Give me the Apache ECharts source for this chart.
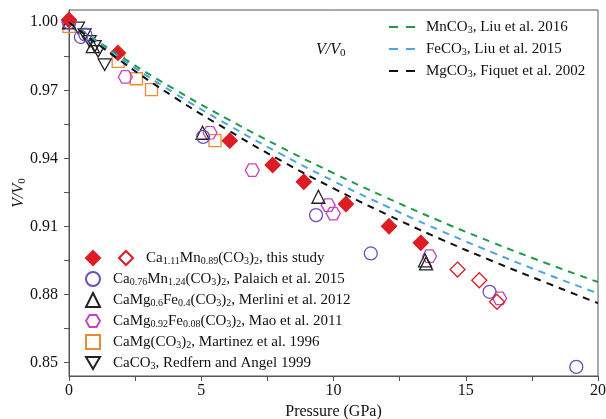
<!DOCTYPE html>
<html>
<head>
<meta charset="utf-8">
<script src="https://cdn.jsdelivr.net/npm/echarts@6/dist/echarts.min.js"></script>
<style>
html,body{margin:0;padding:0;background:#fff}
#chart{width:606px;height:419px}
</style>
</head>
<body>
<div id="chart"></div>
<script>
// EOS curves, V/V0
var pressureGrid = [0, 2, 4, 6, 8, 10, 12, 14, 16, 18, 20];
var mnco3 = [1.0, 0.9846, 0.9704, 0.9573, 0.9450, 0.9335, 0.9227, 0.9125, 0.9030, 0.8940, 0.8855];
var feco3 = [1.0, 0.9837, 0.9687, 0.9549, 0.9420, 0.9300, 0.9189, 0.9084, 0.8986, 0.8893, 0.8805];
var mgco3 = [1.0, 0.9826, 0.9668, 0.9525, 0.9391, 0.9268, 0.9154, 0.9047, 0.8948, 0.8854, 0.8762];

// [P (GPa), V/V0]
var thisStudy = [[0, 1.001], [1.85, 0.9865], [6.08, 0.9478], [7.70, 0.9371], [8.88, 0.9297], [10.47, 0.9199], [12.10, 0.9101], [13.30, 0.9028]];
var thisStudyOpen = [[14.69, 0.8910], [15.51, 0.8863], [16.18, 0.8768]];
var palaich = [[0, 1.0], [0.45, 0.9935], [0.62, 0.9945], [5.07, 0.9495], [9.34, 0.9150], [11.41, 0.8981], [15.90, 0.8812], [19.18, 0.8481]];
var merlini = [[0, 1.0], [0.9, 0.9895], [5.05, 0.9513], [9.43, 0.9231], [13.46, 0.8951], [13.50, 0.8937]];
var mao = [[0, 1.0], [2.13, 0.9759], [5.33, 0.9513], [6.93, 0.9348], [9.80, 0.9194], [9.99, 0.9157], [13.63, 0.8969], [16.28, 0.8783]];
var martinez = [[0, 0.9982], [1.86, 0.9828], [2.55, 0.9751], [3.12, 0.9703], [5.52, 0.9478]];
var redfern = [[0.34, 0.9975], [0.59, 0.9945], [0.78, 0.9916], [0.97, 0.9894], [1.10, 0.9872], [1.35, 0.9813]];

var xTicks = [0, 2.5, 5, 7.5, 10, 12.5, 15, 17.5, 20];
var xLabels = [0, 5, 10, 15, 20];
var yTicks = [0.85, 0.865, 0.88, 0.895, 0.91, 0.925, 0.94, 0.955, 0.97, 0.985, 1.0];
var yLabels = [0.85, 0.88, 0.91, 0.94, 0.97, 1.0];

var serif = 'Liberation Serif';
var nMn = 'MnCO_{3}, Liu et al. 2016';
var nFe = 'FeCO_{3}, Liu et al. 2015';
var nMg = 'MgCO_{3}, Fiquet et al. 2002';
var nStudy = 'Ca_{1.11}Mn_{0.89}(CO_{3})_{2}, this study';
var nPal = 'Ca_{0.76}Mn_{1.24}(CO_{3})_{2}, Palaich et al. 2015';
var nMer = 'CaMg_{0.6}Fe_{0.4}(CO_{3})_{2}, Merlini et al. 2012';
var nMao = 'CaMg_{0.92}Fe_{0.08}(CO_{3})_{2}, Mao et al. 2011';
var nMar = 'CaMg(CO_{3})_{2}, Martinez et al. 1996';
var nRed = 'CaCO_{3}, Redfern and Angel 1999';

var colMn = '#1f9a4a', colFe = '#4aa6e0', colMg = '#111111';

function chem(s) {
    return s.replace(/_\{([^}]*)\}/g, '{b|$1}');
}
var rich = {
    b: {fontFamily: serif, fontSize: 10, lineHeight: 8, verticalAlign: 'bottom', color: '#111'},
    gap: {width: 33}
};
var hexagon = 'path://M0,8.66 L5,0 L15,0 L20,8.66 L15,17.32 L5,17.32 Z';
var downTriangle = 'path://M0,0 L10,0 L5,8.66 Z';
var dashIcon = 'path://M0,0 H9 V2 H0 Z M17,0 H26 V2 H17 Z';

function line(name, vals, color) {
    return {
        type: 'line', name: name, smooth: true, symbol: 'none',
        data: pressureGrid.map(function(p, i) { return [p, vals[i]]; }),
        lineStyle: {color: color, width: 2, type: [7, 6]},
        itemStyle: {color: color}
    };
}
// empty series, only used for the dashed legend keys
function key(name, color) {
    return {type: 'scatter', name: name, data: [], symbol: dashIcon, itemStyle: {color: color, opacity: 1}};
}
function pts(name, data, symbol, size, color, filled) {
    return {
        type: 'scatter', name: name, data: data, symbol: symbol, symbolSize: size,
        itemStyle: {color: filled ? color : 'rgba(255,255,255,0)', borderColor: color, borderWidth: 1.3, opacity: 1}
    };
}

var myChart = echarts.init(document.getElementById('chart'));
var option = {
    animation: false,
    textStyle: {fontFamily: serif},
    title: {
        text: '{i|V/V}{s|0}', left: 316, top: 41, padding: 0,
        textStyle: {
            fontWeight: 'normal',
            rich: {
                i: {fontFamily: serif, fontStyle: 'italic', fontSize: 16, lineHeight: 18, color: '#111'},
                s: {fontFamily: serif, fontSize: 11, lineHeight: 8, verticalAlign: 'bottom', color: '#111'}
            }
        }
    },
    legend: [{
        orient: 'vertical', left: 389, top: 19, padding: 0, itemWidth: 26, itemHeight: 14, itemGap: 6,
        data: [nMn, nFe, nMg],
        formatter: chem,
        textStyle: {fontFamily: serif, fontSize: 15, lineHeight: 16, color: '#111', padding: [0, 0, 0, 6], rich: rich}
    }, {
        orient: 'vertical', left: 85, top: 250, padding: 0, itemWidth: 14, itemHeight: 14, itemGap: 5,
        data: [nStudy, nPal, nMer, nMao, nMar, nRed],
        formatter: function(n) { return (n === nStudy ? '{gap|}' : '') + chem(n); },
        textStyle: {fontFamily: serif, fontSize: 15, lineHeight: 16, color: '#111', padding: [0, 0, 0, 8], rich: rich}
    }, {
        orient: 'vertical', left: 118, top: 250, padding: 0, itemWidth: 14, itemHeight: 14,
        data: ['open'],
        formatter: function() { return ''; }
    }],
    grid: {left: 69, right: 8, top: 10, bottom: 43, outerBoundsMode: 'none', show: true, borderColor: '#555', borderWidth: 1},
    xAxis: {
        type: 'value', min: 0, max: 20,
        name: 'Pressure (GPa)', nameLocation: 'middle', nameGap: 23,
        nameTextStyle: {fontFamily: serif, fontSize: 16, color: '#111'},
        axisLine: {lineStyle: {color: '#555'}},
        axisTick: {customValues: xTicks, length: 5, lineStyle: {color: '#555'}},
        axisLabel: {customValues: xLabels, fontFamily: serif, fontSize: 16, color: '#111', margin: 7},
        splitLine: {show: false}
    },
    yAxis: {
        type: 'value', min: 0.8441, max: 1.0054,
        name: '{i|V/V}{s|0}', nameLocation: 'middle', nameGap: 41, nameRotate: 90, nameMoveOverlap: false,
        nameTextStyle: {
            rich: {
                i: {fontFamily: serif, fontStyle: 'italic', fontSize: 16, lineHeight: 18, color: '#111'},
                s: {fontFamily: serif, fontSize: 11, lineHeight: 8, verticalAlign: 'bottom', color: '#111'}
            }
        },
        axisLine: {show: true, lineStyle: {color: '#555'}},
        axisTick: {show: true, customValues: yTicks, length: 5, lineStyle: {color: '#555'}},
        axisLabel: {
            customValues: yLabels, fontFamily: serif, fontSize: 16, color: '#111', margin: 11,
            formatter: function(v) { return v.toFixed(2); }
        },
        splitLine: {show: false}
    },
    series: [
        line('mn-line', mnco3, colMn),
        line('fe-line', feco3, colFe),
        line('mg-line', mgco3, colMg),
        key(nMn, colMn),
        key(nFe, colFe),
        key(nMg, colMg),
        pts(nMar, martinez, 'rect', 12, '#f08a30', false),
        pts(nRed, redfern, downTriangle, [13, 11.5], '#222222', false),
        pts(nMao, mao, hexagon, [14, 12.5], '#c844c0', false),
        pts(nMer, merlini, 'triangle', 13, '#222222', false),
        pts(nPal, palaich, 'circle', 13, '#6a4fc0', false),
        pts('open', thisStudyOpen, 'diamond', 15, '#dd1c24', false),
        pts(nStudy, thisStudy, 'diamond', 15, '#dd1c24', true)
    ]
};
myChart.setOption(option);
</script>
</body>
</html>
